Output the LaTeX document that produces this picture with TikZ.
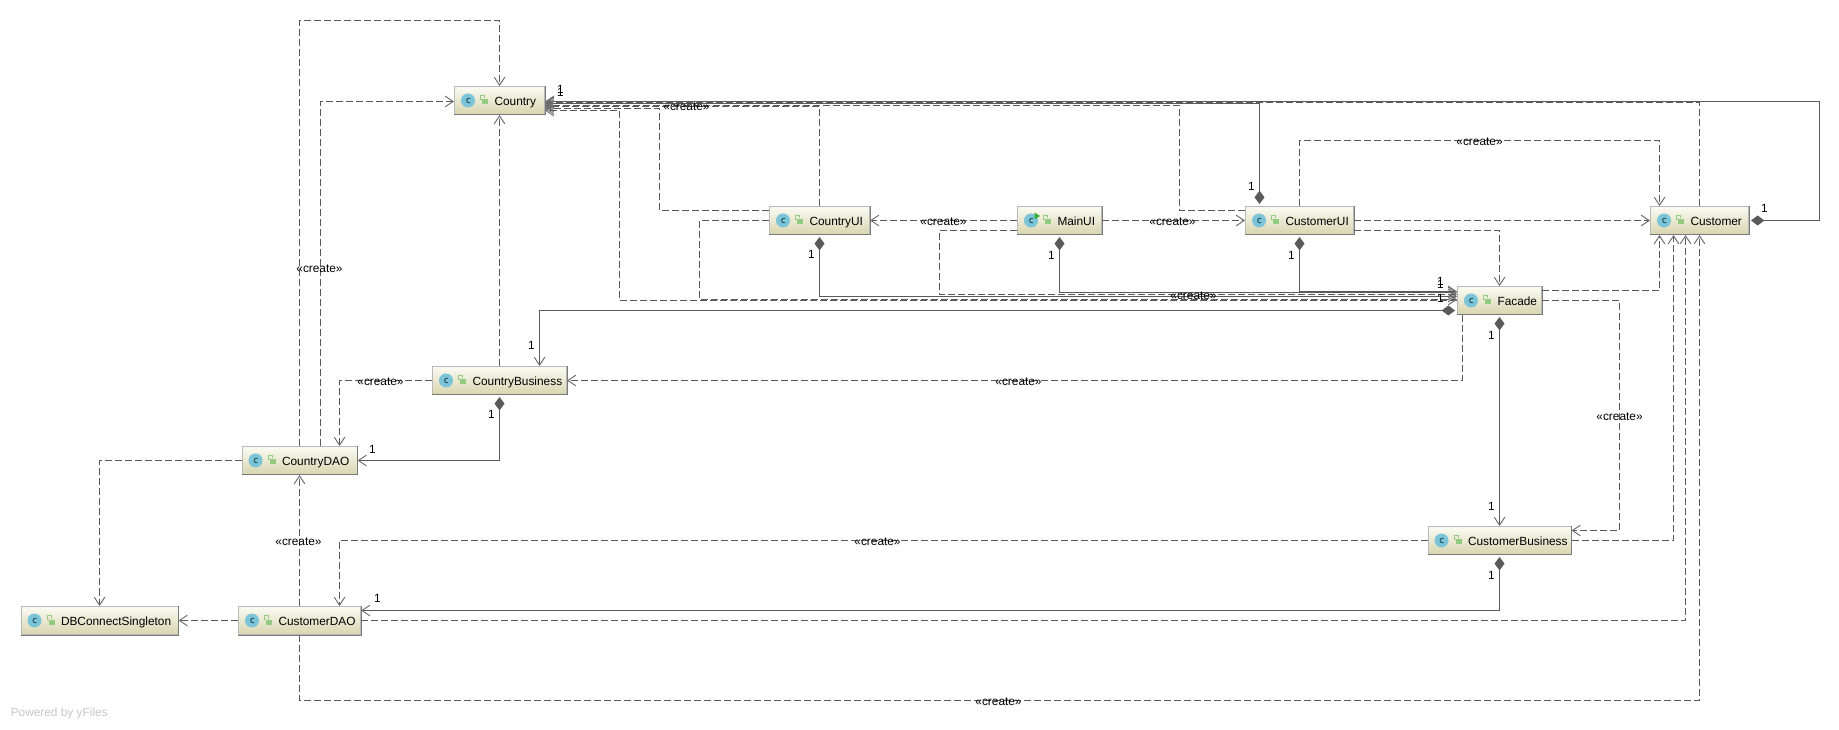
\documentclass[tikz,border=0pt]{standalone}
\usepackage{fontspec}
\setmainfont{Liberation Sans}
\usetikzlibrary{arrows.meta}
\definecolor{edgec}{HTML}{5A5A5A}
\definecolor{tipc}{HTML}{707070}
\definecolor{iconc}{HTML}{7CC4D8}
\definecolor{iconk}{HTML}{2C5F70}
\definecolor{lockc}{HTML}{92CB80}
\definecolor{boxtop}{HTML}{FBFBF4}
\definecolor{boxbot}{HTML}{D8D5AE}
\tikzset{
  x=0.75pt,y=-0.75pt,
  dep/.style={draw=edgec,line width=0.75pt,dash pattern=on 5.25pt off 2.25pt,
    -{Straight Barb[length=6pt,width=8pt,line width=0.75pt,color=tipc]}},
  comp/.style={draw=edgec,line width=0.75pt,
    {Diamond[length=10pt,width=7.5pt,color=edgec,fill=edgec]}-{Straight Barb[length=6pt,width=8pt,line width=0.75pt,color=tipc]},shorten <=1.5pt},
  clsbox/.style={draw=black!28,line width=0.75pt,top color=boxtop,bottom color=boxbot,
    inner sep=0pt,minimum height=21pt,text height=9pt,text depth=1.5pt,font=\fontsize{8.9pt}{10pt}\selectfont},
  lbl/.style={inner sep=0pt,font=\fontsize{8.9pt}{10pt}\selectfont,text=black},
}
\newcommand\cls[5]{%
  \node[clsbox,minimum width=#4*0.75pt] (#1) at (#2,#3)
    {\hspace*{30pt}\makebox[\dimexpr#4pt*3/4-30pt\relax][l]{#5}};
  \draw[black!52,line width=0.75pt] (#1.south west) -- (#1.south east) -- (#1.north east);
  \begin{scope}[shift={(#1.west)}]
    \fill[iconc] (14,0) circle (7);
    \draw[iconk,line width=0.8pt] (16.2,-2.2) .. controls (11.4,-3.8) and (11.4,3.8) .. (16.2,2.2);
    \fill[lockc] (28,-1) rectangle (34,4);
    \draw[lockc,line width=0.7pt] (28,-1) -- (26.5,-1) -- (26.5,-5) -- (30.5,-5) -- (30.5,-2);
  \end{scope}}
\begin{document}
\begin{tikzpicture}
\useasboundingbox (-0.5,-0.5) rectangle (1838.5,729.5);
\fill[white] (-0.5,-0.5) rectangle (1838.5,729.5);

\cls{Country}{499}{100}{90}{Country}
\cls{CountryUI}{819}{220}{100}{CountryUI}
\cls{MainUI}{1059}{220}{84}{MainUI}
\cls{CustomerUI}{1299}{220}{108}{CustomerUI}
\cls{Customer}{1699}{220}{98}{Customer}
\cls{Facade}{1499}{300}{84}{Facade}
\cls{CountryBusiness}{499}{380}{134}{CountryBusiness}
\cls{CountryDAO}{299}{460}{115}{CountryDAO}
\cls{CustomerDAO}{299}{620}{122}{CustomerDAO}
\cls{DBConnectSingleton}{99}{620}{157}{DBConnectSingleton}
\cls{CustomerBusiness}{1499}{540}{143}{CustomerBusiness}
\fill[green!60!black!80] (1034,212) -- (1039.5,215.5) -- (1034,219) -- cycle;

% connectors towards Country
\draw[comp] (Customer.east) -- (1819,220) -- (1819,101) -- (Country.east |- 0,101);
\draw[dep] (Customer.north) -- (1699,102) -- (Country.east |- 0,102);
\draw[comp] (1259,0 |- CustomerUI.north) -- (1259,103) -- (Country.east |- 0,103);
\draw[dep] (CustomerUI.west |- 0,210) -- (1179,210) -- (1179,105) -- (Country.east |- 0,105);
\draw[dep] (CountryUI.north) -- (819,106) -- (Country.east |- 0,106);
\draw[dep] (CountryUI.west |- 0,210) -- (659,210) -- (659,108) -- (Country.east |- 0,108);
\draw[dep] (Facade.west |- 0,300) -- (619,300) -- (619,110) -- (Country.east |- 0,110);
\draw[dep] (320,0 |- CountryDAO.north) -- (320,101) -- (Country.west |- 0,101);
\draw[dep] (CountryDAO.north) -- (299,20) -- (499,20) -- (Country.north);
\draw[dep] (CountryBusiness.north) -- (Country.south);

% connectors towards Facade
\draw[comp] (CountryUI.south) -- (819,296) -- (Facade.west |- 0,296);
\draw[dep] (CountryUI.west) -- (699,220) -- (699,299) -- (Facade.west |- 0,299);
\draw[comp] (MainUI.south) -- (1059,292) -- (Facade.west |- 0,292);
\draw[dep] (MainUI.west |- 0,230) -- (939,230) -- (939,294) -- (Facade.west |- 0,294);
\draw[comp] (CustomerUI.south) -- (1299,291) -- (Facade.west |- 0,291);
\draw[dep] (CustomerUI.east |- 0,230) -- (1499,230) -- (Facade.north);

% MainUI and CustomerUI
\draw[dep] (MainUI.west) -- (CountryUI.east);
\draw[dep] (MainUI.east) -- (CustomerUI.west);
\draw[dep] (CustomerUI.east) -- (Customer.west);
\draw[dep] (CustomerUI.north) -- (1299,140) -- (1659,140) -- (1659,0 |- Customer.north);

% connectors from Facade
\draw[dep] (Facade.east |- 0,290) -- (1659,290) -- (1659,0 |- Customer.south);
\draw[dep] (Facade.east) -- (1619,300) -- (1619,530) -- (CustomerBusiness.east |- 0,530);
\draw[comp] (Facade.west |- 0,310) -- (539,310) -- (539,0 |- CountryBusiness.north);
\draw[dep] (1462,0 |- Facade.south) -- (1462,380) -- (CountryBusiness.east);
\draw[comp] (Facade.south) -- (CustomerBusiness.north);

% lower part
\draw[dep] (CustomerBusiness.east) -- (1673,540) -- (1673,0 |- Customer.south);
\draw[dep] (CustomerDAO.east) -- (1685,620) -- (1685,0 |- Customer.south);
\draw[dep] (CustomerDAO.south) -- (299,700) -- (1699,700) -- (Customer.south);
\draw[dep] (CustomerDAO.north) -- (CountryDAO.south);
\draw[dep] (CustomerBusiness.west) -- (339,540) -- (339,0 |- CustomerDAO.north);
\draw[comp] (CustomerBusiness.south) -- (1499,610) -- (CustomerDAO.east |- 0,610);
\draw[dep] (CountryBusiness.west) -- (339,380) -- (339,0 |- CountryDAO.north);
\draw[comp] (CountryBusiness.south) -- (499,460) -- (CountryDAO.east);
\draw[dep] (CountryDAO.west) -- (99,460) -- (DBConnectSingleton.north);
\draw[dep] (CustomerDAO.west) -- (DBConnectSingleton.east);

% stereotype labels
\node[lbl] (c1) at (686,106.5) {«create»};
\node[lbl] (c2) at (943,221) {«create»};
\node[lbl] (c3) at (1172,221) {«create»};
\node[lbl] (c4) at (1479,141) {«create»};
\node[lbl] (c5) at (1193,295) {«create»};
\node[lbl] (c6) at (319,268) {«create»};
\node[lbl] (c7) at (380,381) {«create»};
\node[lbl] (c8) at (1018,381) {«create»};
\node[lbl] (c9) at (1619,416) {«create»};
\node[lbl] (c10) at (298,541) {«create»};
\node[lbl] (c11) at (877,541) {«create»};
\node[lbl] (c12) at (998,701) {«create»};

% multiplicities
\node[lbl] (m1) at (560,89) {1};
\node[lbl] (m2) at (560,92) {1};
\node[lbl] (m3) at (811,254) {1};
\node[lbl] (m4) at (1051,255) {1};
\node[lbl] (m5) at (1291,255) {1};
\node[lbl] (m6) at (1251,186) {1};
\node[lbl] (m7) at (1764,208) {1};
\node[lbl] (m8) at (1440,281) {1};
\node[lbl] (m9) at (1440,284) {1};
\node[lbl] (m10) at (1440,298) {1};
\node[lbl] (m11) at (531,345) {1};
\node[lbl] (m12) at (1491,335) {1};
\node[lbl] (m13) at (1491,506) {1};
\node[lbl] (m14) at (1491,575) {1};
\node[lbl] (m15) at (372,449) {1};
\node[lbl] (m16) at (491,414) {1};
\node[lbl] (m17) at (377,598) {1};

\node[lbl,text=black!22,anchor=west,font=\fontsize{8.9pt}{10pt}\selectfont] (yf) at (10,713) {Powered by yFiles};
\end{tikzpicture}
\end{document}
